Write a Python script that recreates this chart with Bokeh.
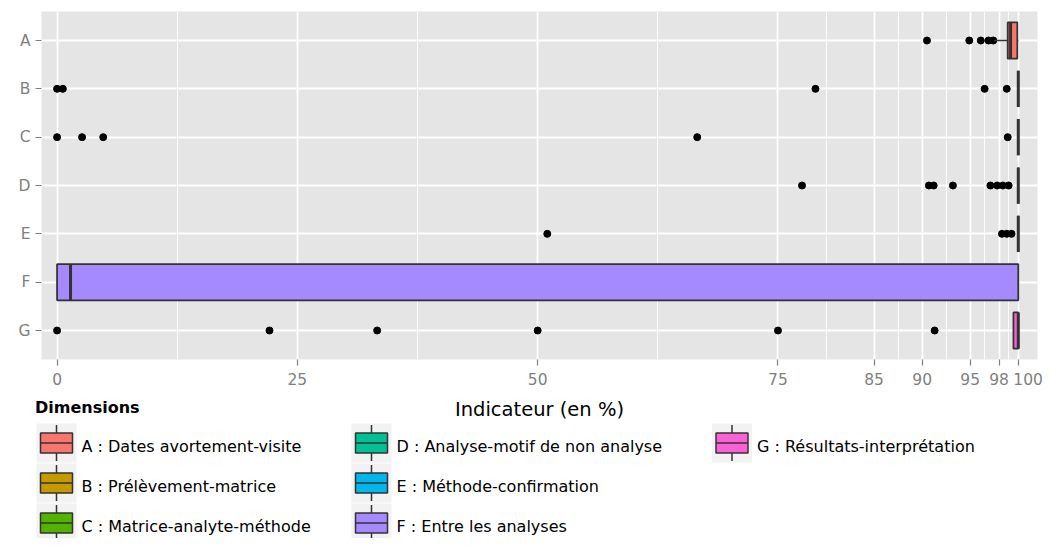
from bokeh.plotting import figure
from bokeh.models import Range1d, FixedTicker
from bokeh.layouts import column
from bokeh.embed import file_html
from bokeh.resources import INLINE
from bokeh.core.properties import value

# ---------------- data ----------------
categories = ["A", "B", "C", "D", "E", "F", "G"]
legend_labels = [
    "A : Dates avortement-visite",
    "B : Prélèvement-matrice",
    "C : Matrice-analyte-méthode",
    "D : Analyse-motif de non analyse",
    "E : Méthode-confirmation",
    "F : Entre les analyses",
    "G : Résultats-interprétation",
]
colors = ["#F8766D", "#C49A00", "#53B400", "#00C094", "#00B6EB", "#A58AFF", "#FB61D7"]

whisker_low = [97.5, 100, 100, 100, 100, 0, 99.5]
q1 = [98.9, 100, 100, 100, 100, 0, 99.5]
median = [99.2, 100, 100, 100, 100, 1.4, 100]
q3 = [99.9, 100, 100, 100, 100, 100, 100]
whisker_high = [100, 100, 100, 100, 100, 100, 100]

outliers_A = [90.5, 94.9, 96.1, 96.9, 97.4]
outliers_B = [0, 0.6, 78.9, 96.5, 98.8]
outliers_C = [0, 2.6, 4.8, 66.6, 98.9]
outliers_D = [77.5, 90.7, 91.2, 93.2, 97.1, 97.8, 98.4, 99.0]
outliers_E = [51.0, 98.3, 98.8, 99.3]
outliers_F = []
outliers_G = [0, 22.1, 33.3, 50.0, 75.0, 91.3]

x_ticks = [0, 25, 50, 75, 85, 90, 95, 98, 100]
x_minor = [12.5, 37.5, 62.5, 80, 87.5, 92.5, 96.5, 99]
x_title = "Indicateur (en %)"
legend_title = "Dimensions"

FONT = "DejaVu Sans"
GREY = "#7F7F7F"
EDGE = "#333333"

# ---------------- main panel ----------------
n = len(categories)
ypos = [n - i for i in range(n)]  # A on top
half = 0.375
H1 = 394

p = figure(width=1045, height=H1, x_range=Range1d(-1.62, 102.0),
           y_range=Range1d(0.4, n + 0.6), output_backend="svg",
           toolbar_location=None, min_border_left=41, min_border_right=8,
           min_border_top=11, min_border_bottom=35)
p.frame_align = False
p.background_fill_color = "#E5E5E5"
p.border_fill_color = "white"
p.outline_line_color = None

p.xaxis.ticker = FixedTicker(ticks=x_ticks, minor_ticks=x_minor)
p.xaxis.major_label_overrides = {100: "\u00a0\u00a0\u00a0\u00a0100"}
p.yaxis.ticker = FixedTicker(ticks=ypos)
p.yaxis.major_label_overrides = {y: c for y, c in zip(ypos, categories)}

for ax in (p.xaxis, p.yaxis):
    ax.axis_line_color = None
    ax.major_tick_line_color = GREY
    ax.major_tick_line_width = 1.2
    ax.major_tick_out = 6
    ax.major_tick_in = 0
    ax.minor_tick_out = 0
    ax.minor_tick_in = 0
    ax.major_label_text_color = GREY
    ax.major_label_text_font = FONT
    ax.major_label_text_font_size = "15.5px"
    ax.major_label_standoff = 5

p.xgrid.grid_line_color = "white"
p.xgrid.grid_line_width = 1.8
p.xgrid.minor_grid_line_color = "white"
p.xgrid.minor_grid_line_width = 0.9
p.ygrid.grid_line_color = "white"
p.ygrid.grid_line_width = 1.8

# outliers
outlier_lists = [outliers_A, outliers_B, outliers_C, outliers_D, outliers_E, outliers_F, outliers_G]
ox, oy = [], []
for y, vals in zip(ypos, outlier_lists):
    ox.extend(vals)
    oy.extend([y] * len(vals))
p.scatter(ox, oy, size=7, color="black")

# whiskers
p.segment(x0=whisker_low, x1=q1, y0=ypos, y1=ypos, line_color=EDGE, line_width=1.5)
p.segment(x0=q3, x1=whisker_high, y0=ypos, y1=ypos, line_color=EDGE, line_width=1.5)
# boxes
p.quad(left=q1, right=q3, bottom=[y - half for y in ypos], top=[y + half for y in ypos],
       fill_color=colors, line_color=EDGE, line_width=1.8)
# medians
p.segment(x0=median, x1=median, y0=[y - half for y in ypos], y1=[y + half for y in ypos],
          line_color=EDGE, line_width=3)

# ---------------- legend / axis title ----------------
LH = 538 - H1
leg = figure(width=1045, height=LH, x_range=Range1d(0, 1045), y_range=Range1d(LH, 0),
             output_backend="svg", toolbar_location=None, x_axis_type=None,
             y_axis_type=None, min_border=0, min_border_left=0, min_border_right=0,
             min_border_top=0, min_border_bottom=0)
leg.frame_align = False
leg.outline_line_color = None
leg.grid.visible = False
leg.background_fill_color = "white"
leg.border_fill_color = "white"

leg.text(x=[539], y=[15], text=[x_title], text_align="center", text_baseline="middle",
         text_font=value(FONT), text_font_size="19.5px", text_color="black")
leg.text(x=[34.5], y=[13], text=[legend_title], text_align="left", text_baseline="middle",
         text_font=value(FONT), text_font_size="16px", text_font_style="bold",
         text_color="black")

col_x = [56, 371, 731.5]
row_y = [48.5, 88.5, 128.5]
kx = [col_x[i // 3] for i in range(n)]
ky = [row_y[i % 3] for i in range(n)]

leg.rect(x=kx, y=ky, width=40, height=39, fill_color="#F2F2F2", line_color=None)
leg.segment(x0=kx, x1=kx, y0=[y - 18 for y in ky], y1=[y - 10 for y in ky],
            line_color=EDGE, line_width=1.5)
leg.segment(x0=kx, x1=kx, y0=[y + 10 for y in ky], y1=[y + 18 for y in ky],
            line_color=EDGE, line_width=1.5)
leg.quad(left=[x - 16 for x in kx], right=[x + 16 for x in kx],
         top=[y - 10 for y in ky], bottom=[y + 10 for y in ky],
         fill_color=colors, line_color=EDGE, line_width=1.5)
leg.segment(x0=[x - 16 for x in kx], x1=[x + 16 for x in kx], y0=ky, y1=ky,
            line_color=EDGE, line_width=1.5)
leg.text(x=[x + 25 for x in kx], y=[y + 3.5 for y in ky], text=legend_labels,
         text_align="left", text_baseline="middle", text_font=value(FONT),
         text_font_size="16px", text_color="black")

layout = column(p, leg, spacing=0)
open("out.html", "w").write(file_html(layout, INLINE))
